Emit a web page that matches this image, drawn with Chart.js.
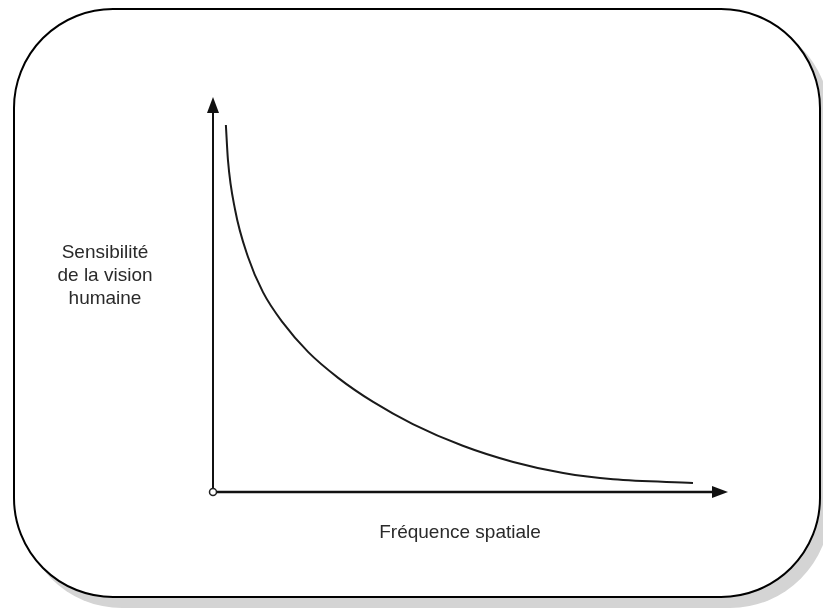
<!DOCTYPE html>
<html>
<head>
<meta charset="utf-8">
<script src="https://cdn.jsdelivr.net/npm/chart.js@4/dist/chart.umd.min.js"></script>
<style>
  body { margin: 0; background: #fff; }
  #wrap { position: relative; width: 823px; height: 608px; overflow: hidden; }
  #frame {
    position: absolute; left: 13px; top: 8px; width: 804px; height: 586px;
    border: 2px solid #000; border-radius: 100px; background: #fff;
    box-shadow: 9px 10px 0 #d4d4d4;
  }
  #chart { position: absolute; left: 0; top: 0; }
</style>
</head>
<body>
<div id="wrap">
  <div id="frame"></div>
  <canvas id="chart" width="823" height="608"></canvas>
</div>
<script>
// spatial frequency (arbitrary units) and matching sensitivity
var frequency = [2.5, 2.9, 4.3, 6.8, 9.7, 13.6, 18.5, 24.3, 31.1, 38.8, 48.5, 58.3, 68.0, 77.7, 93.2];
var sensitivity = [92.9, 84.1, 71.4, 59.5, 50.6, 42.8, 35.4, 28.9, 22.8, 17.2, 11.7, 7.6, 4.8, 3.2, 2.3];
var yLabel = ['Sensibilité', 'de la vision', 'humaine'];
var xLabel = 'Fréquence spatiale';

var points = frequency.map(function (f, i) { return { x: f, y: sensitivity[i] }; });

var font = '19px "Liberation Sans", Arial, sans-serif';

var axesPlugin = {
  id: 'axesArrows',
  beforeDatasetsDraw: function (chart) {
    var ctx = chart.ctx;
    var xs = chart.scales.x, ys = chart.scales.y;
    var x0 = xs.getPixelForValue(0), xMax = xs.getPixelForValue(xs.max);
    var y0 = ys.getPixelForValue(0), yMax = ys.getPixelForValue(ys.max);
    ctx.save();
    ctx.strokeStyle = '#111';
    ctx.fillStyle = '#111';
    // vertical axis
    ctx.lineWidth = 2;
    ctx.beginPath();
    ctx.moveTo(x0, y0);
    ctx.lineTo(x0, yMax + 12);
    ctx.stroke();
    ctx.beginPath();
    ctx.moveTo(x0, yMax);
    ctx.lineTo(x0 - 6, yMax + 16);
    ctx.lineTo(x0 + 6, yMax + 16);
    ctx.closePath();
    ctx.fill();
    // horizontal axis
    ctx.lineWidth = 2.5;
    ctx.beginPath();
    ctx.moveTo(x0, y0);
    ctx.lineTo(xMax - 12, y0);
    ctx.stroke();
    ctx.beginPath();
    ctx.moveTo(xMax, y0);
    ctx.lineTo(xMax - 16, y0 - 6);
    ctx.lineTo(xMax - 16, y0 + 6);
    ctx.closePath();
    ctx.fill();
    // axis captions
    ctx.font = font;
    ctx.fillStyle = '#2a2a2a';
    ctx.textAlign = 'center';
    ctx.textBaseline = 'middle';
    yLabel.forEach(function (line, i) {
      ctx.fillText(line, 105, 253 + i * 23);
    });
    ctx.fillText(xLabel, 460, 533);
    ctx.restore();
  }
};

new Chart(document.getElementById('chart'), {
  type: 'scatter',
  data: {
    datasets: [
      {
        data: points,
        showLine: true,
        borderColor: '#1a1a1a',
        borderWidth: 2,
        pointRadius: 0,
        cubicInterpolationMode: 'monotone',
        fill: false
      },
      {
        data: [{ x: 0, y: 0 }],
        clip: false,
        pointRadius: 3.5,
        pointBackgroundColor: '#fff',
        pointBorderColor: '#222',
        pointBorderWidth: 1.5
      }
    ]
  },
  options: {
    responsive: false,
    animation: false,
    devicePixelRatio: 1,
    layout: { padding: { left: 213, right: 95, top: 97, bottom: 116 } },
    plugins: { legend: { display: false }, tooltip: { enabled: false } },
    scales: {
      x: { type: 'linear', min: 0, max: 100, display: false },
      y: { type: 'linear', min: 0, max: 100, display: false }
    }
  },
  plugins: [axesPlugin]
});
</script>
</body>
</html>
